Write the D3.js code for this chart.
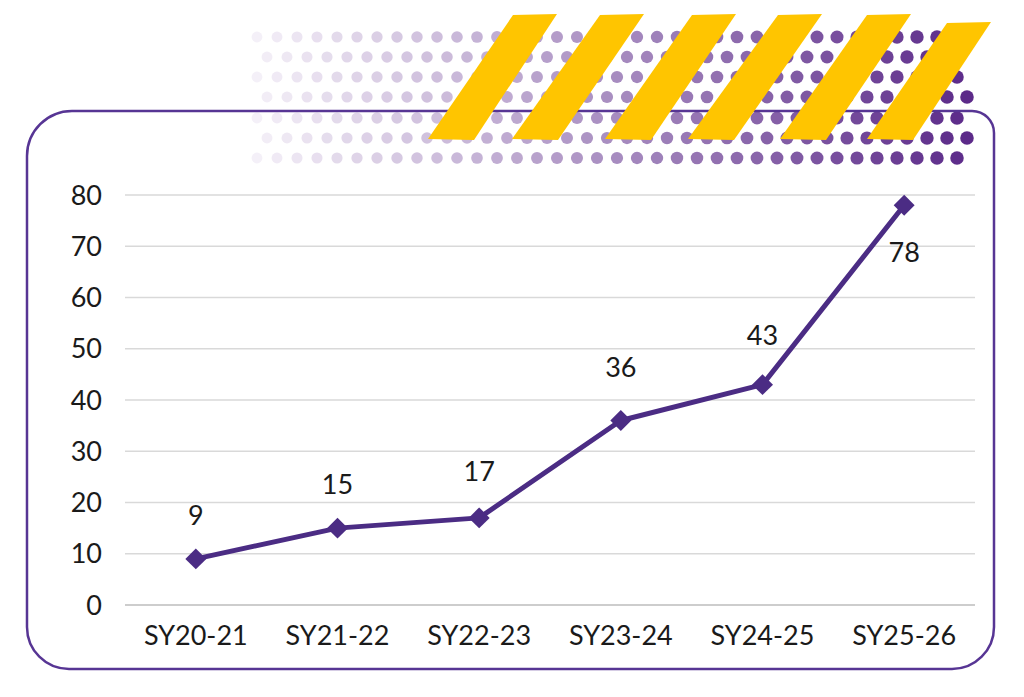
<!DOCTYPE html>
<html>
<head>
<meta charset="utf-8">
<script src="https://cdn.jsdelivr.net/npm/d3@7"></script>
<style>
  html, body { margin: 0; padding: 0; background: #fff; }
  svg { display: block; }
  text { font-family: Lato, "Open Sans", sans-serif; fill: #1a1a1a; }
</style>
</head>
<body>
<div id="chart"></div>
<script>
const categories = ['SY20-21', 'SY21-22', 'SY22-23', 'SY23-24', 'SY24-25', 'SY25-26'];
const values = [9, 15, 17, 36, 43, 78];
const yTicks = [0, 10, 20, 30, 40, 50, 60, 70, 80];
// label distance from its point (negative = below, the last one would hit the top)
const labelGap = [44, 44, 47, 53, 49, -47];

const width = 1024;
const height = 697;
const purple = '#4b2c84';

const svg = d3.select('#chart')
  .append('svg')
  .attr('width', width)
  .attr('height', height);

// decoration: dotted band fading from lavender to purple
const deco = svg.append('g').attr('class', 'deco');
const dotColor = d3.interpolateRgb('#f6f2f9', '#5a2888');
const rowY = [37, 57, 77, 97, 118, 138, 158];
rowY.forEach((y, i) => {
  const start = i % 2 === 0 ? 257 : 267;
  const end = i < 2 ? 940 : 975;
  for (let x = start; x <= end; x += 20) {
    const t = (x - 250) / 725;
    deco.append('circle')
      .attr('cx', x)
      .attr('cy', y)
      .attr('r', 5.4 + t * 1.4)
      .style('fill', dotColor(t));
  }
});

// frame with uneven rounded corners
const L = 27, R = 994, T = 111, B = 669;
const rTL = 45, rTR = 22, rBR = 42, rBL = 42;
const frame = d3.path();
frame.moveTo(L + rTL, T);
frame.lineTo(R - rTR, T);
frame.arcTo(R, T, R, T + rTR, rTR);
frame.lineTo(R, B - rBR);
frame.arcTo(R, B, R - rBR, B, rBR);
frame.lineTo(L + rBL, B);
frame.arcTo(L, B, L, B - rBL, rBL);
frame.lineTo(L, T + rTL);
frame.arcTo(L, T, L + rTL, T, rTL);
frame.closePath();
svg.append('path')
  .attr('d', frame.toString())
  .style('fill', 'none')
  .style('stroke', '#573594')
  .style('stroke-width', 2.5);

// yellow slashes
const stripeTop = [513, 600, 692, 778, 867, 947];
const stripeBottom = [428, 512, 605, 688, 780, 867];
stripeTop.forEach((tx, i) => {
  const ty = i === 5 ? 23 : 15;
  const bx = stripeBottom[i];
  svg.append('polygon')
    .attr('points', [[tx, ty], [tx + 44, ty - 1], [bx + 46, 140], [bx, 139]].map(p => p.join(',')).join(' '))
    .style('fill', '#ffc500');
});

// chart
const x = d3.scaleBand().domain(categories).range([125, 975]);
const y = d3.scaleLinear().domain([0, 80]).range([605, 195]);

const g = svg.append('g');

g.selectAll('.grid')
  .data(yTicks)
  .enter()
  .append('line')
  .attr('class', 'grid')
  .attr('x1', 125)
  .attr('x2', 975)
  .attr('y1', d => y(d))
  .attr('y2', d => y(d))
  .style('stroke', d => d === 0 ? '#bdbdbd' : '#d9d9d9')
  .style('stroke-width', 1.5);

g.selectAll('.ytick')
  .data(yTicks)
  .enter()
  .append('text')
  .attr('class', 'ytick')
  .attr('x', 102)
  .attr('y', d => y(d))
  .attr('dy', '0.36em')
  .attr('text-anchor', 'end')
  .style('font-size', '27px')
  .text(d => d);

g.selectAll('.xtick')
  .data(categories)
  .enter()
  .append('text')
  .attr('class', 'xtick')
  .attr('x', d => x(d) + x.bandwidth() / 2)
  .attr('y', 645)
  .attr('text-anchor', 'middle')
  .style('font-size', '27px')
  .text(d => d);

const pts = categories.map((c, i) => ({ c, v: values[i], gap: labelGap[i] }));
const cx = d => x(d.c) + x.bandwidth() / 2;

g.append('path')
  .datum(pts)
  .attr('d', d3.line().x(cx).y(d => y(d.v)))
  .style('fill', 'none')
  .style('stroke', purple)
  .style('stroke-width', 5)
  .style('stroke-linejoin', 'round');

g.selectAll('.marker')
  .data(pts)
  .enter()
  .append('path')
  .attr('class', 'marker')
  .attr('d', d3.symbol().type(d3.symbolSquare).size(220))
  .attr('transform', d => `translate(${cx(d)},${y(d.v)}) rotate(45)`)
  .style('fill', purple);

g.selectAll('.label')
  .data(pts)
  .enter()
  .append('text')
  .attr('class', 'label')
  .attr('x', cx)
  .attr('y', d => y(d.v) - d.gap)
  .attr('dy', '0.36em')
  .attr('text-anchor', 'middle')
  .style('font-size', '27px')
  .text(d => d.v);
</script>
</body>
</html>
